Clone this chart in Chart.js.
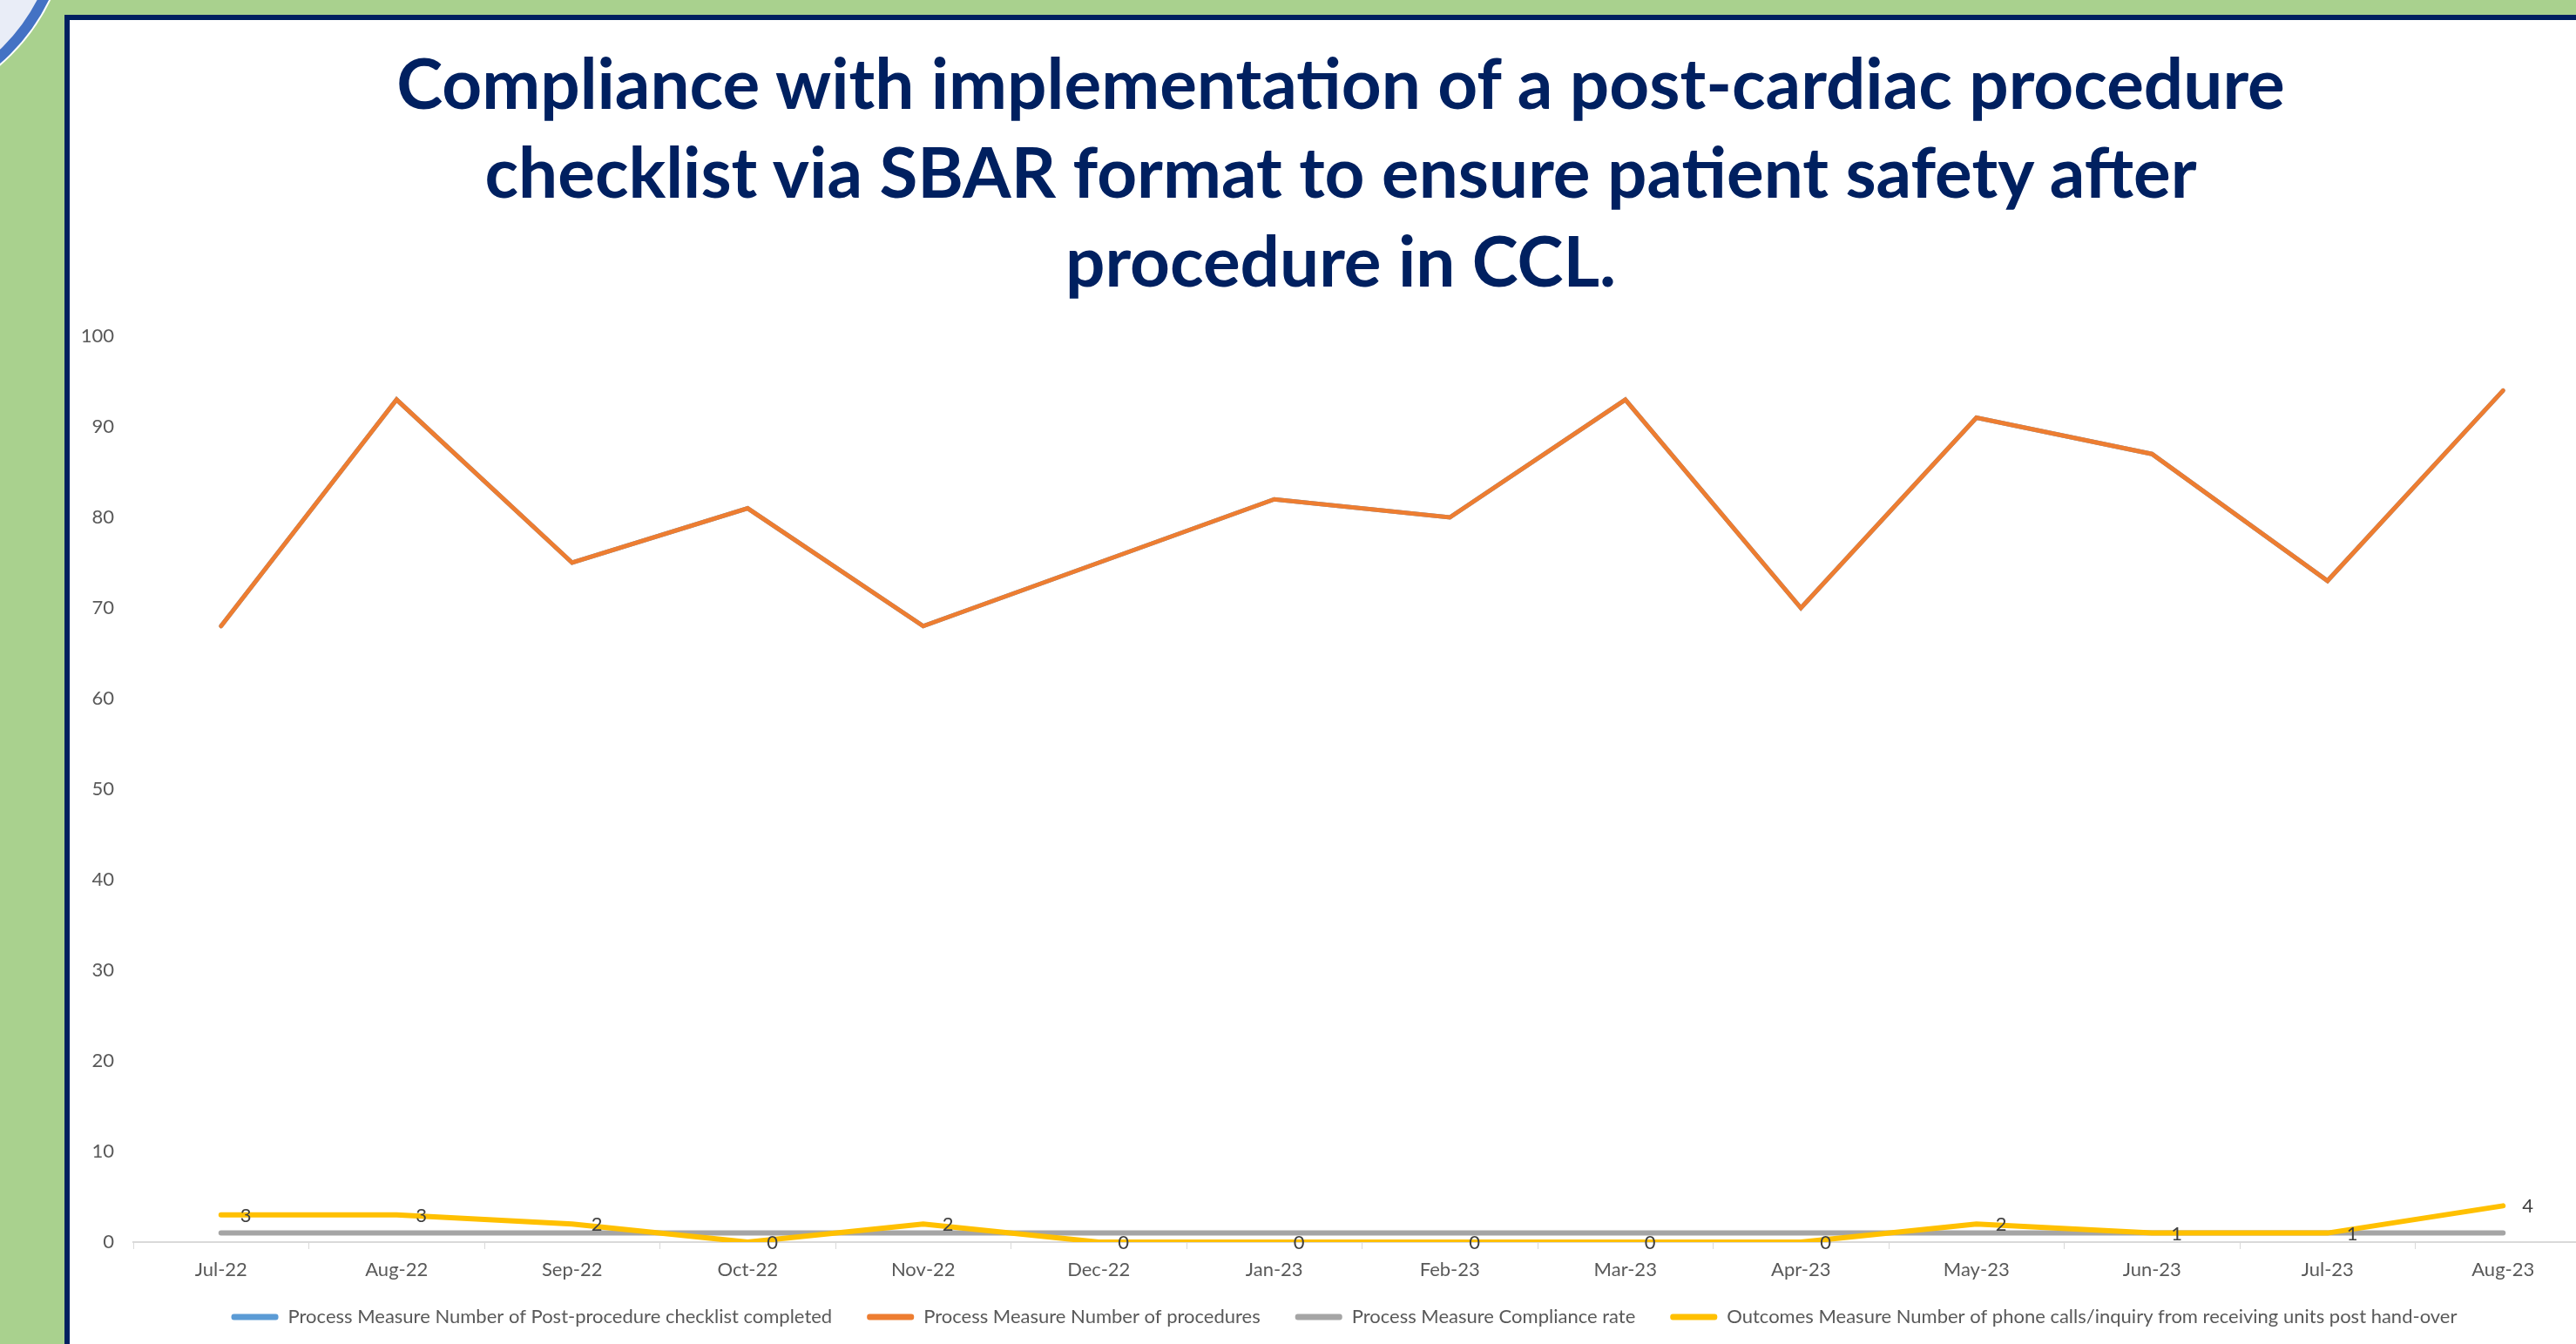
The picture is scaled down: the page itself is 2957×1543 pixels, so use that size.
<!DOCTYPE html>
<html>
<head>
<meta charset="utf-8">
<script src="https://cdn.jsdelivr.net/npm/chart.js@4.4.0/dist/chart.umd.min.js"></script>
<style>
  html, body { margin: 0; padding: 0; }
  body { width: 2957px; height: 1543px; overflow: hidden; background: #A9D18E; position: relative; font-family: Lato, sans-serif; }
  .ring { position: absolute; left: -379px; top: -329px; width: 458px; height: 458px; box-sizing: border-box;
          border-radius: 50%; background: #E9EDF7; border: 12px solid #4472C4; box-shadow: 0 0 0 2px #fff; }
  .panel { position: absolute; left: 74px; top: 17px; width: 3000px; height: 1600px; background: #fff;
           border-left: 6px solid #002060; border-top: 6px solid #002060; }
  .title { position: absolute; left: 139px; top: 43px; width: 2800px; text-align: center; color: #002060;
           font-family: Lato, sans-serif; font-weight: bold; font-size: 80px; line-height: 102px; }
  .wrap { position: absolute; left: 84px; top: 350px; width: 2890px; height: 1196px; }
</style>
</head>
<body>
<div class="ring"></div>
<div class="panel"></div>
<div class="title">Compliance with implementation of a post-cardiac procedure<br>checklist via SBAR format to ensure patient safety after<br>procedure in CCL.</div>
<div class="wrap"><canvas id="chart"></canvas></div>
<script>
var months = ['Jul-22', 'Aug-22', 'Sep-22', 'Oct-22', 'Nov-22', 'Dec-22', 'Jan-23', 'Feb-23', 'Mar-23', 'Apr-23', 'May-23', 'Jun-23', 'Jul-23', 'Aug-23'];
var checklistCompleted = [68, 93, 75, 81, 68, 75, 82, 80, 93, 70, 91, 87, 73, 94];
var numberOfProcedures = [68, 93, 75, 81, 68, 75, 82, 80, 93, 70, 91, 87, 73, 94];
var complianceRate = [1, 1, 1, 1, 1, 1, 1, 1, 1, 1, 1, 1, 1, 1];
var phoneCalls = [3, 3, 2, 0, 2, 0, 0, 0, 0, 0, 2, 1, 1, 4];
var yTicks = [0, 10, 20, 30, 40, 50, 60, 70, 80, 90, 100];

Chart.defaults.font.family = 'Lato';
Chart.defaults.font.size = 22;
Chart.defaults.color = '#595959';

// value labels to the right of the yellow line points
var pointLabels = {
    id: 'pointLabels',
    afterDatasetsDraw: function(chart) {
        var ctx = chart.ctx;
        var meta = chart.getDatasetMeta(3);
        var values = chart.data.datasets[3].data;
        ctx.save();
        ctx.font = '22px Lato';
        ctx.fillStyle = '#404040';
        ctx.textAlign = 'left';
        ctx.textBaseline = 'middle';
        meta.data.forEach(function(pt, i) {
            ctx.fillText(String(values[i]), pt.x + 22, pt.y + 1);
        });
        ctx.restore();
    }
};

// move the legend a little, like the excel one sits
var legendNudge = {
    id: 'legendNudge',
    afterLayout: function(chart) {
        var lg = chart.legend;
        lg.left += 14; lg.right += 14;
        lg.top -= 13; lg.bottom -= 13;
    }
};

function lineSet(label, data, color, width, order) {
    return {
        label: label,
        data: data,
        borderColor: color,
        backgroundColor: color,
        borderWidth: width,
        pointRadius: 0,
        borderCapStyle: 'round',
        tension: 0,
        order: order
    };
}

new Chart(document.getElementById('chart'), {
    type: 'line',
    data: {
        labels: months,
        datasets: [
            lineSet('Process Measure Number of Post-procedure checklist completed', checklistCompleted, '#5B9BD5', 5, 4),
            lineSet('Process Measure Number of procedures', numberOfProcedures, '#ED7D31', 5, 3),
            lineSet('Process Measure Compliance rate', complianceRate, '#A5A5A5', 6, 2),
            lineSet('Outcomes Measure Number of phone calls/inquiry from receiving units post hand-over', phoneCalls, '#FFC000', 6, 1)
        ]
    },
    options: {
        responsive: true,
        maintainAspectRatio: false,
        animation: false,
        layout: { padding: { top: 36, right: 0, bottom: 0, left: 0 } },
        plugins: {
            title: { display: false },
            tooltip: { enabled: false },
            legend: {
                position: 'bottom',
                reverse: true,
                labels: {
                    boxWidth: 54,
                    boxHeight: 7,
                    padding: 40,
                    useBorderRadius: true,
                    borderRadius: 3,
                    color: '#595959',
                    font: { size: 22 },
                    generateLabels: function(chart) {
                        var items = Chart.defaults.plugins.legend.labels.generateLabels(chart);
                        items.forEach(function(item) {
                            item.fillStyle = item.strokeStyle;
                            item.lineWidth = 0;
                        });
                        return items;
                    }
                }
            }
        },
        scales: {
            x: {
                offset: true,
                grid: { display: true, drawOnChartArea: false, drawTicks: true, tickLength: 8, color: '#D9D9D9', offset: true },
                border: { color: '#D9D9D9', width: 2 },
                ticks: { padding: 11, color: '#595959', maxRotation: 0, autoSkip: false },
                afterFit: function(scale) { scale.height = 48; }
            },
            y: {
                min: 0,
                max: 100,
                afterBuildTicks: function(scale) { scale.ticks = yTicks.map(function(v) { return { value: v }; }); },
                grid: { display: false, drawTicks: false },
                border: { display: false },
                ticks: { padding: 22, color: '#595959' },
                afterFit: function(scale) { scale.width = 69; }
            }
        }
    },
    plugins: [pointLabels, legendNudge]
});
</script>
</body>
</html>
